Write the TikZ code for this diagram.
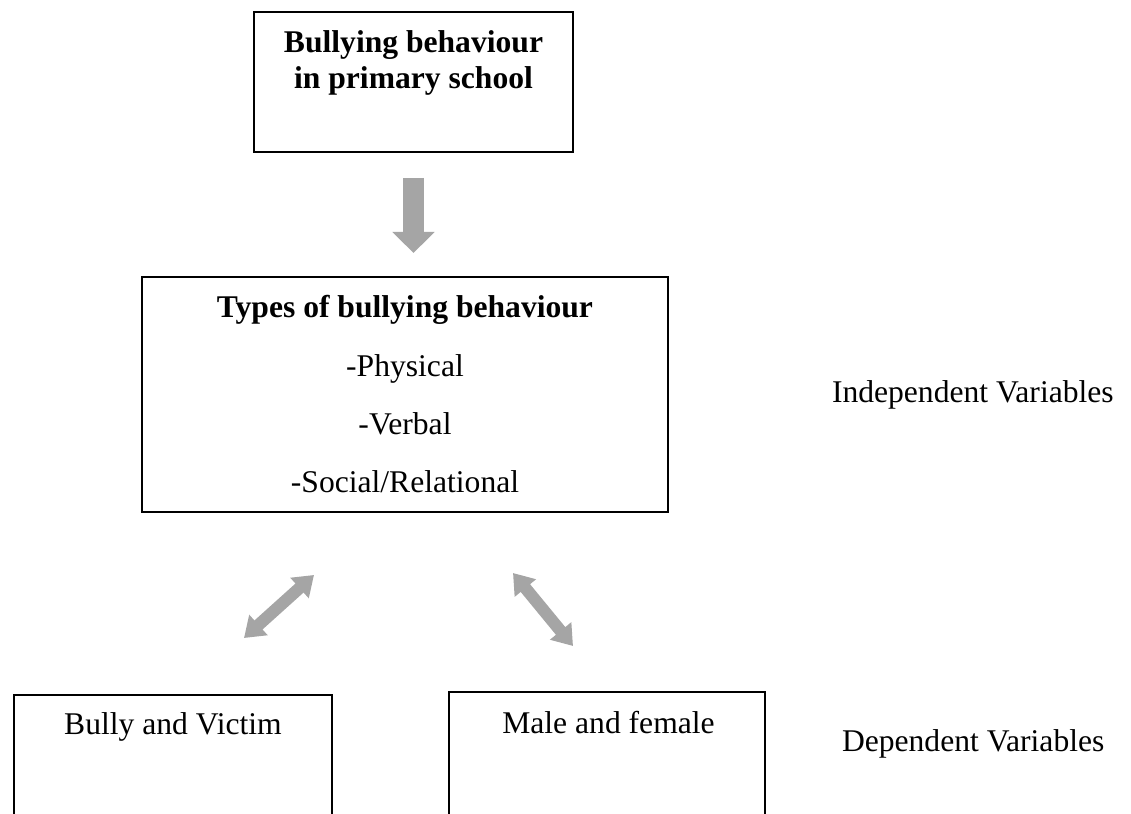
\documentclass[tikz,border=0pt]{standalone}
\usepackage{fontspec}
\setmainfont{Liberation Serif}
\usetikzlibrary{arrows.meta}
\definecolor{arrowgray}{HTML}{A5A5A5}
\def\u{0.3797pt}
\tikzset{
  box/.style={draw=black, line width=0.9pt, fill=none, inner sep=0pt, outer sep=0pt, rectangle},
  txt/.style={inner sep=0pt, outer sep=0pt, anchor=base, font=\fontsize{12}{14}\selectfont},
  btxt/.style={txt, font=\fontsize{12}{14}\selectfont\bfseries},
  downarrow/.style={draw=arrowgray, line width=8pt, -{Triangle[width=15.6pt, length=8pt]}},
  twoarrow/.style={draw=arrowgray, line width=4.6pt, {Triangle[width=10pt, length=7.4pt]}-{Triangle[width=10pt, length=7.4pt]}}
}
\begin{document}
\begin{tikzpicture}[x=0.3797pt, y=-0.3797pt]
\useasboundingbox (0,0) rectangle (1131,814);
\fill[white] (0,0) rectangle (1131,814);
\clip (0,0) rectangle (1131,814);

% boxes
\node[box, minimum width=319*\u, minimum height=140*\u] (top) at (413.5,82) {};
\node[box, minimum width=526*\u, minimum height=235*\u] (mid) at (405,394.5) {};
\node[box, minimum width=318*\u, minimum height=140*\u] (bv) at (173,765) {};
\node[box, minimum width=316*\u, minimum height=143*\u] (mf) at (607,763.5) {};

% texts
\node[btxt] (t1) at (413.5,53) {Bullying behaviour};
\node[btxt] (t2) at (413.5,89) {in primary school};
\node[btxt] (m0) at (405,318) {Types of bullying behaviour};
\node[txt] (m1) at (405,377) {-Physical};
\node[txt] (m2) at (405,435) {-Verbal};
\node[txt] (m3) at (405,493) {-Social/Relational};
\node[txt] (bvt) at (173,735) {Bully and Victim};
\node[txt] (mft) at (608.5,733) {Male and female};
\node[txt, anchor=base west] (iv) at (832,403) {Independent Variables};
\node[txt, anchor=base west] (dv) at (842,752) {Dependent Variables};

% arrows
\draw[downarrow] ([yshift=-26*\u]top.south) -- ([yshift=24*\u]top.south |- mid.north);
\coordinate (la) at (314,575);
\coordinate (lb) at (244,638);
\coordinate (ra) at (513,573);
\coordinate (rb) at (573,646);
\draw[twoarrow] (la) -- (lb);
\draw[twoarrow] (ra) -- (rb);
\end{tikzpicture}
\end{document}
